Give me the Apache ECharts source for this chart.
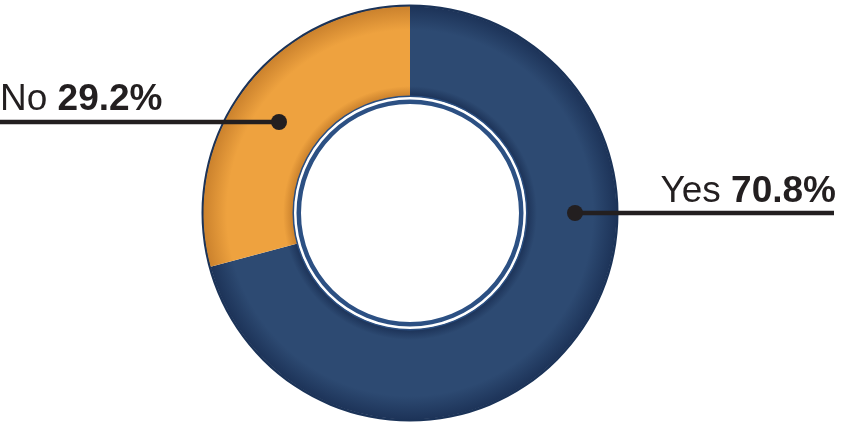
<!DOCTYPE html>
<html>
<head>
<meta charset="utf-8">
<script src="https://cdn.jsdelivr.net/npm/echarts@6/dist/echarts.min.js"></script>
<style>
html,body{margin:0;padding:0;background:#fff;}
#chart{width:848px;height:426px;}
</style>
</head>
<body>
<div id="chart"></div>
<script>
// ---- data ----
const categories = ['Yes', 'No'];
const values = [70.8, 29.2];
const sliceColors = ['#2d4a72', '#eea23f'];
const sliceEdgeColors = ['#1c3257', '#c9802c'];

// ---- layout (not data) ----
const CX = 410, CY = 213, R_IN = 116.5, R_OUT = 208;
const leaders = {
  Yes: { dot: [575, 213], end: 834, textX: 836, textY: 192, align: 'right' },
  No:  { dot: [279, 122], end: 0,   textX: 0,   textY: 100, align: 'left' }
};
const ink = '#231f20';

function grad(base, edge) {
  const a = R_IN / R_OUT;
  return {
    type: 'radial', x: CX, y: CY, r: R_OUT, global: true,
    colorStops: [
      { offset: a, color: edge },
      { offset: a + 0.05, color: base },
      { offset: 0.88, color: base },
      { offset: 1, color: edge }
    ]
  };
}

const chart = echarts.init(document.getElementById('chart'), null, { renderer: 'canvas' });
const fontFamily = '"Liberation Sans", Arial, sans-serif';

const graphics = [];
categories.forEach(c => {
  const L = leaders[c];
  graphics.push({
    type: 'line', z: 100,
    shape: { x1: L.dot[0], y1: L.dot[1], x2: L.end, y2: L.dot[1] },
    style: { stroke: ink, lineWidth: 4.5 }
  });
  graphics.push({
    type: 'circle', z: 101,
    shape: { cx: L.dot[0], cy: L.dot[1], r: 8 },
    style: { fill: ink }
  });
});

chart.setOption({
  backgroundColor: '#ffffff',
  animation: false,
  series: [
    {
      type: 'pie', silent: true, z: 1,
      center: [CX, CY],
      radius: [R_OUT - 2, R_OUT + 0.5],
      label: { show: false }, labelLine: { show: false },
      data: [{ value: 1, itemStyle: { color: '#1b3358' } }]
    },
    {
      type: 'pie', silent: true, z: 6,
      center: [CX, CY],
      radius: [R_IN - 0.5, R_IN + 1],
      label: { show: false }, labelLine: { show: false },
      data: [{ value: 1, itemStyle: { color: '#2a4e80' } }]
    },
    {
      type: 'pie', silent: true, z: 1,
      center: [CX, CY],
      radius: [109, 113.5],
      label: { show: false }, labelLine: { show: false },
      data: [{ value: 1, itemStyle: { color: '#2c5083' } }]
    },
    {
      type: 'pie', z: 5,
      center: [CX, CY],
      radius: [R_IN, R_OUT - 1.5],
      startAngle: 90,
      clockwise: true,
      avoidLabelOverlap: false,
      data: categories.map((c, i) => ({
        name: c, value: values[i],
        itemStyle: { color: grad(sliceColors[i], sliceEdgeColors[i]) }
      })),
      label: {
        show: true,
        position: 'outside',
        formatter: p => '{n|' + p.name + ' }{v|' + p.value.toFixed(1) + '%}',
        rich: {
          n: { fontFamily: fontFamily, fontSize: 37, fontWeight: 'normal', color: ink },
          v: { fontFamily: fontFamily, fontSize: 37, fontWeight: 'bold', color: ink }
        }
      },
      labelLine: { show: false },
      labelLayout: function (params) {
        const L = leaders[categories[params.dataIndex]];
        return { x: L.textX, y: L.textY, align: L.align, verticalAlign: 'middle' };
      },
      emphasis: { disabled: true }
    }
  ],
  graphic: graphics
});
</script>
</body>
</html>
